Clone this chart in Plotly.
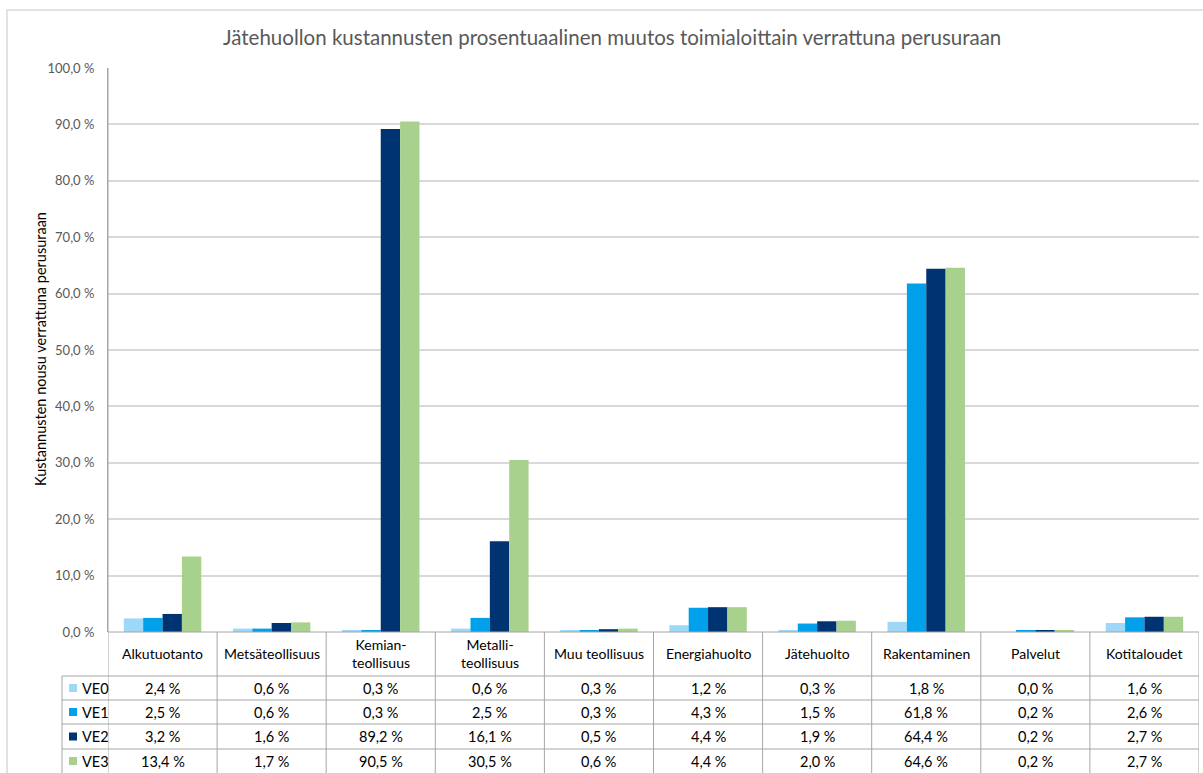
import plotly.graph_objects as go

# Toimialat (taulukon otsikkorivi; rivinvaihto <br>)
categories = ["Alkutuotanto", "Metsäteollisuus", "Kemian-<br>teollisuus", "Metalli-<br>teollisuus",
              "Muu teollisuus", "Energiahuolto", "Jätehuolto", "Rakentaminen", "Palvelut", "Kotitaloudet"]
series_names = ["VE0", "VE1", "VE2", "VE3"]
ve0 = [2.4, 0.6, 0.3, 0.6, 0.3, 1.2, 0.3, 1.8, 0.0, 1.6]
ve1 = [2.5, 0.6, 0.3, 2.5, 0.3, 4.3, 1.5, 61.8, 0.2, 2.6]
ve2 = [3.2, 1.6, 89.2, 16.1, 0.5, 4.4, 1.9, 64.4, 0.2, 2.7]
ve3 = [13.4, 1.7, 90.5, 30.5, 0.6, 4.4, 2.0, 64.6, 0.2, 2.7]
colors = ["#9DD8F8", "#00A0EA", "#003371", "#A9D18E"]
y_ticks = [0, 10, 20, 30, 40, 50, 60, 70, 80, 90, 100]

W, H = 1203, 773
L, R, T, B = 108, 1199, 68, 632  # plot area in pixels
FONT = "Lato, Calibri, Carlito, sans-serif"


def px_x(px):
    return (px - L) / (R - L)


def px_y(py):
    return (B - py) / (B - T)


def fmt(v):
    return f"{v:.1f}".replace(".", ",") + " %"


values = [ve0, ve1, ve2, ve3]
fig = go.Figure()
for name, vals, col in zip(series_names, values, colors):
    fig.add_trace(go.Bar(x=list(range(len(categories))), y=vals, name=name,
                         marker=dict(color=col, line=dict(width=0)), hoverinfo="y+name"))

shapes = []
grid = "#D9D9D9"
tline = "#A6A6A6"

# outer chart frame
shapes.append(dict(type="rect", xref="paper", yref="paper",
                   x0=px_x(7), x1=px_x(1215), y0=px_y(785), y1=px_y(10),
                   line=dict(color=grid, width=1.5), fillcolor="rgba(0,0,0,0)", layer="below"))

# data table grid
row_edges = [676, 700, 724, 749, 773]
shapes.append(dict(type="line", xref="paper", yref="paper", x0=0, x1=1, y0=0, y1=0,
                   line=dict(color=tline, width=1)))
for i, ry in enumerate(row_edges[:-1]):
    shapes.append(dict(type="line", xref="paper", yref="paper", x0=px_x(62), x1=1,
                       y0=px_y(ry), y1=px_y(ry), line=dict(color=tline, width=1)))
shapes.append(dict(type="line", xref="paper", yref="paper", x0=px_x(62), x1=px_x(62),
                   y0=px_y(676), y1=px_y(780), line=dict(color=tline, width=1)))
for k in range(len(categories) + 1):
    shapes.append(dict(type="line", xref="x", yref="paper", x0=k - 0.5, x1=k - 0.5,
                       y0=px_y(632) if k else 1, y1=px_y(780), line=dict(color=tline, width=1)))

annotations = []
row_centers = [(row_edges[i] + row_edges[i + 1]) / 2 for i in range(4)]
for i, cat in enumerate(categories):
    annotations.append(dict(x=i, y=px_y(654), xref="x", yref="paper", text=cat, showarrow=False,
                            font=dict(size=14, color="#000000", family=FONT), xanchor="center",
                            yanchor="middle"))
    for r, vals in enumerate(values):
        annotations.append(dict(x=i, y=px_y(row_centers[r]), xref="x", yref="paper", text=fmt(vals[i]),
                                showarrow=False, font=dict(size=14.5, color="#000000", family=FONT),
                                xanchor="center", yanchor="middle"))

# legend keys inside the table
for r, (name, col) in enumerate(zip(series_names, colors)):
    cy = row_centers[r]
    shapes.append(dict(type="rect", xref="paper", yref="paper", x0=px_x(69), x1=px_x(77),
                       y0=px_y(cy + 4), y1=px_y(cy - 4), fillcolor=col, line=dict(width=0)))
    annotations.append(dict(x=px_x(80), y=px_y(cy), xref="paper", yref="paper", text=name,
                            showarrow=False, xanchor="left", yanchor="middle",
                            font=dict(size=14.5, color="#000000", family=FONT)))

# title and axis title
annotations.append(dict(x=px_x(612), y=px_y(37), xref="paper", yref="paper",
                        text="Jätehuollon kustannusten prosentuaalinen muutos toimialoittain verrattuna perusuraan",
                        showarrow=False, xanchor="center", yanchor="middle",
                        font=dict(size=20.5, color="#595959", family=FONT)))
annotations.append(dict(x=px_x(40), y=px_y(349), xref="paper", yref="paper",
                        text="Kustannusten nousu verrattuna perusuraan", textangle=-90,
                        showarrow=False, xanchor="center", yanchor="middle",
                        font=dict(size=14.5, color="#000000", family=FONT)))

fig.update_layout(
    width=W, height=H,
    margin=dict(l=L, r=W - R, t=T, b=H - B),
    paper_bgcolor="white", plot_bgcolor="white",
    barmode="group", bargap=0.29, bargroupgap=0,
    showlegend=False,
    separators=", ",
    shapes=shapes, annotations=annotations,
    font=dict(family=FONT),
)
fig.update_xaxes(range=[-0.5, len(categories) - 0.5], showticklabels=False, showgrid=False,
                 zeroline=False, showline=False)
fig.update_yaxes(range=[0, 100], tickvals=y_ticks, ticktext=[fmt(v) for v in y_ticks],
                 showgrid=True, gridcolor=grid, gridwidth=1.5, zeroline=False,
                 showline=True, linecolor=tline, linewidth=1, ticks="", ticklabelstandoff=10,
                 tickfont=dict(size=13, color="#595959", family=FONT))

fig.write_html("out.html")
